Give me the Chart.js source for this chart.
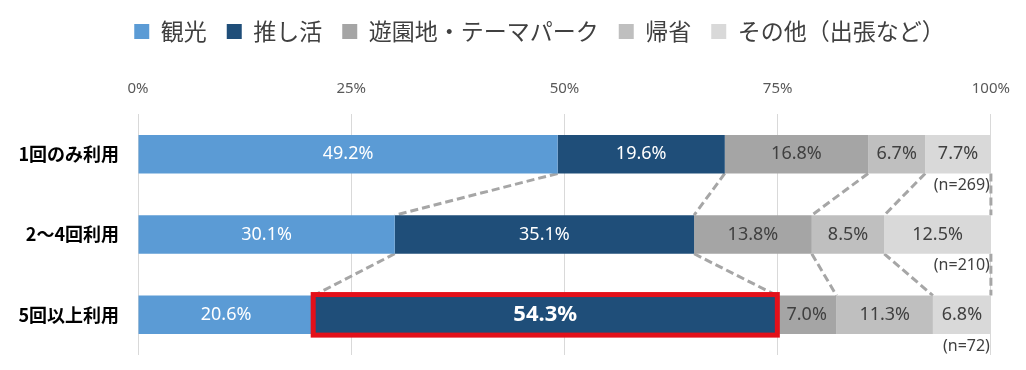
<!DOCTYPE html>
<html>
<head>
<meta charset="utf-8">
<script src="https://cdn.jsdelivr.net/npm/chart.js@4.4.1/dist/chart.umd.min.js"></script>
<style>
  html, body { margin: 0; padding: 0; background: #fff; }
  #wrap { width: 1026px; height: 370px; }
</style>
</head>
<body>
<div id="wrap"><canvas id="grafico"></canvas></div>
<script>
/* -------------------- DADOS -------------------- */
const categorias = ["1回のみ利用", "2～4回利用", "5回以上利用"];
const amostras = [269, 210, 72];
const series = ["観光", "推し活", "遊園地・テーマパーク", "帰省", "その他（出張など）"];
const kanko = [49.2, 30.1, 20.6];
const oshikatsu = [19.6, 35.1, 54.3];
const yuenchi = [16.8, 13.8, 7.0];
const kisei = [6.7, 8.5, 11.3];
const sonota = [7.7, 12.5, 6.8];
const ticksX = [0, 25, 50, 75, 100];

const cores = ["#5b9bd5", "#1f4e79", "#a5a5a5", "#bfbfbf", "#d9d9d9"];
const coresTexto = ["#ffffff", "#ffffff", "#404040", "#404040", "#404040"];
const fonteJP = "'Noto Sans CJK JP', sans-serif";
const fonteNum = "'Noto Sans', 'Noto Sans CJK JP', sans-serif";

/* -------------------- PLUGINS -------------------- */
// espaço extra abaixo da legenda e deslocamento para a direita
const espacoLegenda = {
    id: "espacoLegenda",
    beforeInit(chart) {
        const fitOriginal = chart.legend.fit;
        chart.legend.fit = function () {
            fitOriginal.bind(chart.legend)();
            this.height += 11;
        };
    },
    afterLayout(chart) {
        chart.legend.left += 78;
    }
};

const extras = {
    id: "extras",
    beforeDatasetsDraw(chart) {
        // linhas tracejadas entre as barras
        const ctx = chart.ctx;
        const metas = chart.data.datasets.map((d, i) => chart.getDatasetMeta(i));
        ctx.save();
        ctx.strokeStyle = "#a6a6a6";
        ctx.lineWidth = 3;
        ctx.setLineDash([8, 4]);
        for (let r = 0; r < categorias.length - 1; r++) {
            metas.forEach(m => {
                const a = m.data[r], b = m.data[r + 1];
                ctx.beginPath();
                ctx.moveTo(a.x, a.y + a.height / 2);
                ctx.lineTo(b.x, b.y - b.height / 2);
                ctx.stroke();
            });
        }
        ctx.restore();
    },
    afterDatasetsDraw(chart) {
        const ctx = chart.ctx;
        ctx.save();
        ctx.textAlign = "center";
        ctx.textBaseline = "middle";
        chart.data.datasets.forEach((ds, i) => {
            const meta = chart.getDatasetMeta(i);
            meta.data.forEach((bar, j) => {
                const v = ds.data[j];
                const cx = (bar.x + bar.base) / 2;
                const destaque = (i === 1 && j === 2);
                ctx.fillStyle = coresTexto[i];
                ctx.font = destaque ? "bold 22px " + fonteNum : "18px " + fonteNum;
                ctx.fillText(v.toFixed(1) + "%", cx, bar.y);
                if (destaque) {
                    ctx.strokeStyle = "#e3101a";
                    ctx.lineWidth = 5;
                    ctx.strokeRect(bar.base - 0.5, bar.y - bar.height / 2 - 1, bar.x - bar.base + 1, bar.height + 2);
                }
            });
        });
        // (n=...)
        const last = chart.getDatasetMeta(chart.data.datasets.length - 1);
        ctx.textAlign = "right";
        ctx.fillStyle = "#404040";
        ctx.font = "16px " + fonteNum;
        last.data.forEach((bar, j) => {
            ctx.fillText("(n=" + amostras[j] + ")", bar.x - 1, bar.y + bar.height / 2 + 12);
        });
        ctx.restore();
    }
};

/* -------------------- GRÁFICO -------------------- */
function montarGrafico() {
    const valores = [kanko, oshikatsu, yuenchi, kisei, sonota];
    new Chart(document.getElementById("grafico"), {
        type: "bar",
        data: {
            labels: categorias,
            datasets: series.map((s, i) => ({
                label: s,
                data: valores[i],
                backgroundColor: cores[i],
                borderWidth: 0,
                barPercentage: 0.48,
                categoryPercentage: 1
            }))
        },
        options: {
            indexAxis: "y",
            responsive: true,
            maintainAspectRatio: false,
            animation: false,
            layout: { padding: { top: 0, right: 35, bottom: 15, left: 10 } },
            plugins: {
                tooltip: { enabled: false },
                legend: {
                    position: "top",
                    labels: {
                        boxWidth: 15,
                        boxHeight: 15,
                        padding: 20,
                        color: "#404040",
                        font: { family: fonteJP, size: 23 }
                    }
                }
            },
            scales: {
                x: {
                    stacked: true,
                    position: "top",
                    min: 0,
                    max: 100,
                    afterBuildTicks: s => { s.ticks = ticksX.map(v => ({ value: v })); },
                    grid: { color: "#d9d9d9", lineWidth: 1, drawTicks: false },
                    border: { display: false },
                    ticks: {
                        padding: 16,
                        color: "#595959",
                        font: { family: fonteNum, size: 15 },
                        callback: v => v + "%"
                    }
                },
                y: {
                    stacked: true,
                    grid: { display: false, drawTicks: true, tickLength: 8 },
                    border: { display: false },
                    afterFit: s => { s.width = 128; s.paddingTop = 0; s.paddingBottom = 0; },
                    ticks: {
                        padding: 11,
                        color: "#000000",
                        font: { family: fonteJP, size: 18, weight: "bold" }
                    }
                }
            }
        },
        plugins: [espacoLegenda, extras]
    });
}

montarGrafico();
</script>
</body>
</html>
